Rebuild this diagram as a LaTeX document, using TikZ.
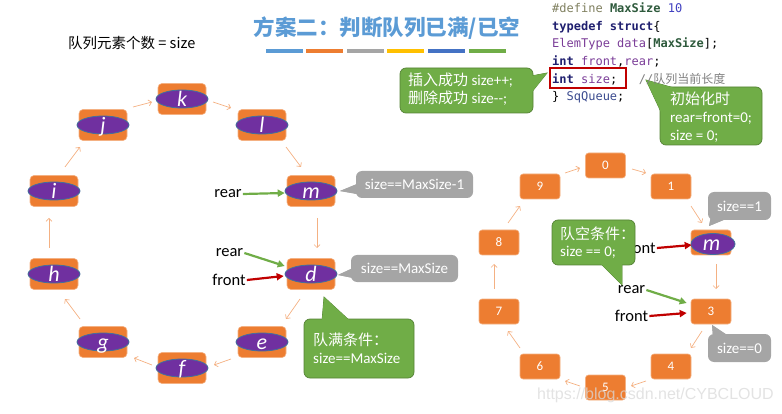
\documentclass[tikz,border=0pt]{standalone}
\usepackage{fontspec}
\setmainfont{Carlito}
\newfontfamily\cjk{Noto Sans CJK SC}
\newfontfamily\codefont{DejaVu Sans Mono}
\newfontfamily\wmfont{Liberation Sans}
\usetikzlibrary{shapes.geometric,arrows.meta,calc}
\definecolor{orng}{HTML}{ED7D31}
\definecolor{orngl}{HTML}{F4B183}
\definecolor{purp}{HTML}{7030A0}
\definecolor{ellb}{HTML}{41719C}
\definecolor{grn}{HTML}{70AD47}
\definecolor{grnd}{HTML}{548235}
\definecolor{gry}{HTML}{A5A5A5}
\definecolor{redd}{HTML}{C00000}
\definecolor{ttl}{HTML}{5B9BD5}
\definecolor{ylw}{HTML}{FFC000}
\definecolor{blu2}{HTML}{4472C4}
\definecolor{cpre}{HTML}{7F7F5F}
\definecolor{cmac}{HTML}{2E5A3C}
\definecolor{cnum}{HTML}{4040C0}
\definecolor{ckey}{HTML}{1F1F6F}
\definecolor{cvar}{HTML}{7B3D98}
\definecolor{ctyp}{HTML}{3B4B8F}
\definecolor{ccom}{HTML}{808080}
\newcommand\ringel[3]{%
  \node[obox] (#1) at (#2) {};
  \node[oval] (#1o) at (#1) {};
  \node[ltr] (#1t) at (#1) {#3};}
\newcommand\numel[3]{\node[rbox] (#1) at (#2) {#3};}
\newcommand\callout[4]{%
  \filldraw[#1] #4 -- cycle;
  \filldraw[#1, rounded corners=6pt] (#2) rectangle (#3);
  \fill[#1, draw=none] #4 -- cycle;}
\begin{document}
\begin{tikzpicture}[x=1pt,y=-1pt,
  obox/.style={rectangle, rounded corners=4pt, fill=orng, draw=orngl, line width=0.6pt,
    minimum width=48pt, minimum height=31pt, inner sep=0pt},
  rbox/.style={rectangle, rounded corners=3pt, fill=orng, draw=orngl, line width=0.6pt,
    minimum width=40pt, minimum height=25pt, inner sep=0pt, text=white,
    font=\fontsize{13}{13}\selectfont},
  oval/.style={ellipse, fill=purp, draw=ellb, line width=0.8pt,
    minimum width=52pt, minimum height=18pt, inner sep=0pt},
  ltr/.style={text=white, font=\itshape\fontsize{22}{22}\selectfont, inner sep=0pt,
    text height=15pt, text depth=0pt},
  ring/.style={draw=orngl, line width=0.7pt, -{Straight Barb[length=3pt,width=6pt]}},
  garrow/.style={draw=grn, line width=2.2pt, -{Triangle[length=7pt,width=7pt]}},
  rarrow/.style={draw=redd, line width=2.2pt, -{Triangle[length=7pt,width=7pt]}},
  lbl/.style={inner sep=1pt, font=\fontsize{16.5}{16.5}\selectfont},
  gcall/.style={fill=grn, draw=grnd, line width=0.7pt},
  scall/.style={fill=gry, draw=none},
  ctext/.style={text=white, anchor=base west, inner sep=0pt,
    font=\fontsize{15}{15}\selectfont},
  stext/.style={text=white, inner sep=0pt, font=\fontsize{15}{15}\selectfont},
  code/.style={anchor=base west, inner sep=0pt, font=\codefont\fontsize{12}{12}\selectfont},
  bar/.style={line width=4pt}
]
\useasboundingbox (0,0) rectangle (782,414);

% title
\node[text=ttl, font=\cjk\bfseries\fontsize{21.5}{21.5}\selectfont] (title) at (387,28) {方案二：判断队列已满/已空};
\draw[bar, ttl] (266,51) -- (303,51);
\draw[bar, orng] (306,51) -- (343,51);
\draw[bar, gry] (347,51) -- (384,51);
\draw[bar, ylw] (387,51) -- (424,51);
\draw[bar, blu2] (428,51) -- (465,51);
\draw[bar, grn] (469,51) -- (506,51);

\node[anchor=west, inner sep=0pt, font=\cjk\fontsize{14.5}{14.5}\selectfont] (cnt) at (68,43) {队列元素个数 = size};

% green callouts top
\callout{gcall}{400,68}{533,113}{(531,76) -- (547,73) -- (531,93)}
\node[ctext] (ins1) at (408,85.5) {{\cjk 插入成功} size++;};
\node[ctext] (ins2) at (408,103.5) {{\cjk 删除成功} size{-}{-};};
\callout{gcall}{660,87}{762,145}{(646,80) -- (676,88.5) -- (661,112)}
\node[ctext] (init1) at (670,105) {{\cjk 初始化时}};
\node[ctext] (init2) at (670,123) {rear=front=0;};
\node[ctext] (init3) at (670,141) {size = 0;};

% code
\node[code] (c1) at (552,12.5) {{\color{cpre}\#define} {\color{cmac}\bfseries MaxSize} {\color{cnum}10}};
\node[code] (c2) at (552,30.5) {{\color{ckey}\bfseries typedef struct}\{};
\node[code] (c3) at (552,48) {{\color{cvar}ElemType data}[{\color{cmac}\bfseries MaxSize}];};
\node[code] (c4) at (552,66) {{\color{ckey}\bfseries int} {\color{cvar}front},{\color{cvar}rear};};
\node[code] (c5) at (552,83.5) {{\color{ckey}\bfseries int} {\color{cvar}size};~~~{\color{ccom}//{\cjk 队列当前长度}}};
\node[code] (c6) at (552,101) {\} {\color{ctyp}SqQueue};};
\node[draw=redd, line width=2pt, minimum width=76pt, minimum height=20pt, inner sep=0pt] (szbox) at (588,78) {};

% left ring
\ringel{k}{182,99}{k}
\ringel{j}{103,125}{j}
\ringel{l}{262,125}{l}
\ringel{i}{54,191}{i}
\ringel{m}{311,191}{m}
\ringel{h}{54,274}{h}
\ringel{d}{311,274}{d}
\ringel{g}{103,342}{g}
\ringel{e}{262,342}{e}
\ringel{f}{182,368}{f}

\draw[ring] ([shift={(30,-18)}]j.center) -- ([shift={(-30,3)}]k.center);
\draw[ring] ([shift={(31,3)}]k.center) -- ([shift={(-31,-17)}]l.center);
\draw[ring] ([shift={(24,22)}]l.center) -- ([shift={(-10,-24)}]m.center);
\draw[ring] ([shift={(6,27)}]m.center) -- ([shift={(6,-26)}]d.center);
\draw[ring] ([shift={(-11,25)}]d.center) -- ([shift={(24,-23)}]e.center);
\draw[ring] ([shift={(-31,17)}]e.center) -- ([shift={(32,-3)}]f.center);
\draw[ring] ([shift={(-30,-3)}]f.center) -- ([shift={(31,16)}]g.center);
\draw[ring] ([shift={(-23,-23)}]g.center) -- ([shift={(11,25)}]h.center);
\draw[ring] ([shift={(-5,-26)}]h.center) -- ([shift={(-5,27)}]i.center);
\draw[ring] ([shift={(11,-24)}]i.center) -- ([shift={(-23,22)}]j.center);

\node[lbl] (r1) at (228,194) {rear};
\draw[garrow] (r1.east) -- ([shift={(-2,2)}]m.west);
\node[lbl] (r2) at (229.5,253) {rear};
\draw[garrow] (r2.east) -- ([shift={(-2,-8)}]d.west);
\node[lbl] (f2) at (229,280) {front};
\draw[rarrow] (f2.east) -- ([shift={(-3,2)}]d.west);

\callout{scall}{356,171}{473,198}{(357,184) -- (340,191) -- (357,194)}
\node[stext] (s1) at (414.5,184.5) {size==MaxSize-1};
\callout{scall}{351,255}{458,282}{(353,268) -- (338,275) -- (353,278)}
\node[stext] (s2) at (404.5,268.5) {size==MaxSize};
\callout{gcall}{304,319}{414,378}{(322,321) -- (324,297) -- (350,321)}
\node[ctext] (full1) at (313,345) {{\cjk 队满条件：}};
\node[ctext] (full2) at (313,363) {size==MaxSize};

% right ring
\numel{n0}{605.5,165.5}{0}
\numel{n1}{671,186.5}{1}
\numel{n9}{540,186.5}{9}
\numel{n8}{499,242.5}{8}
\numel{nm}{711,242.5}{}
\node[oval, minimum width=44pt, minimum height=21pt] (nmo) at (713,244) {};
\node[ltr] (nmt) at (711.5,243) {m};
\numel{n7}{499,311.5}{7}
\numel{n3}{711,311.5}{3}
\numel{n6}{540,366.5}{6}
\numel{n4}{671,366.5}{4}
\numel{n5}{605.5,387.5}{5}

\draw[ring] ([shift={(25,-13.5)}]n9.center) -- ([shift={(-25.5,2.5)}]n0.center);
\draw[ring] ([shift={(26.5,3.5)}]n0.center) -- ([shift={(-25,-13.5)}]n1.center);
\draw[ring] ([shift={(20,19.5)}]n1.center) -- ([shift={(-9,-19.5)}]nm.center);
\draw[ring] ([shift={(5,21.5)}]nm.center) -- ([shift={(5,-22.5)}]n3.center);
\draw[ring] ([shift={(-9,19.5)}]n3.center) -- ([shift={(20,-18.5)}]n4.center);
\draw[ring] ([shift={(-25,14.5)}]n4.center) -- ([shift={(25.5,-1.5)}]n5.center);
\draw[ring] ([shift={(-25.5,-1.5)}]n5.center) -- ([shift={(25,14.5)}]n6.center);
\draw[ring] ([shift={(-20,-18.5)}]n6.center) -- ([shift={(9,19.5)}]n7.center);
\draw[ring] ([shift={(-5,-22.5)}]n7.center) -- ([shift={(-5,21.5)}]n8.center);
\draw[ring] ([shift={(9,-19.5)}]n8.center) -- ([shift={(-20,19.5)}]n9.center);

\node[lbl] (f3) at (639,248) {front};
\draw[rarrow] (f3.east) -- ([shift={(1,2.5)}]nm.west);
\node[lbl] (r4) at (631.5,290) {rear};
\draw[garrow] (r4.east) -- ([shift={(-4,-8.5)}]n3.west);
\node[lbl] (f4) at (631.5,316) {front};
\draw[rarrow] (f4.east) -- ([shift={(-4,1.5)}]n3.west);

\callout{scall}{708,192}{771,220}{(711,216) -- (709,226) -- (726,219)}
\node[stext] (s3) at (739.5,206) {size==1};
\callout{scall}{708,334}{771,362}{(713,337) -- (712,325) -- (727,335)}
\node[stext] (s4) at (739.5,348) {size==0};
\callout{gcall}{552,220}{635,265}{(600,263) -- (622,285) -- (622,263)}
\node[ctext] (empty1) at (560,240) {{\cjk 队空条件：}};
\node[ctext] (empty2) at (560,257) {size == 0;};

% watermark
\node[anchor=west, inner sep=0pt, text=white!70!gray, opacity=0.75,
  font=\wmfont\fontsize{16}{16}\selectfont] (wm) at (537,395) {https://blog.csdn.net/CYBCLOUD};
\end{tikzpicture}
\end{document}
